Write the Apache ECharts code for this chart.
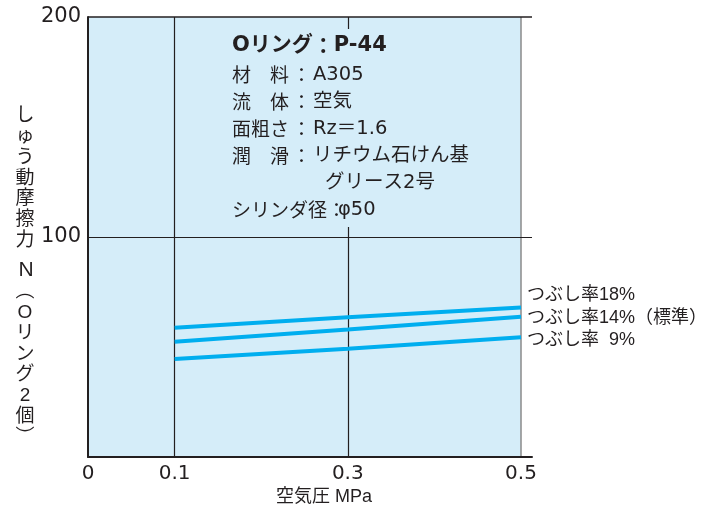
<!DOCTYPE html>
<html>
<head>
<meta charset="utf-8">
<script src="https://cdn.jsdelivr.net/npm/echarts@6/dist/echarts.min.js"></script>
<style>html,body{margin:0;padding:0;background:#fff;}#c{width:710px;height:515px;}</style>
</head>
<body>
<div id="c"></div>
<script>
// ---- data ----
const xValues = [0.1, 0.3, 0.5];            // 空気圧 MPa
const s18 = [58.8, 63.5, 68.0];             // つぶし率18%
const s14 = [52.4, 58.0, 63.8];             // つぶし率14%（標準）
const s9  = [44.5, 49.2, 54.4];             // つぶし率 9%
const seriesNames = ['つぶし率18%', 'つぶし率14%（標準）', 'つぶし率  9%'];
const xTickLabels = [0, 0.1, 0.3, 0.5];
const yTickLabels = [100, 200];
const xGridValues = [0.1, 0.3];
const xAxisName = '空気圧 MPa';
const yNameTop = 'し\nゅ\nう\n動\n摩\n擦\n力';
const yNameUnit = 'N';
const yNameBottom = '︵\nO\nリ\nン\nグ\n2\n個\n︶';
const infoTitle = ['Oリング', 'P-44'];
const infoLines = [
  ['材　料', 'A305'],
  ['流　体', '空気'],
  ['面粗さ', 'Rz＝1.6'],
  ['潤　滑', 'リチウム石けん基'],
  ['', 'グリース2号']
];
const infoLast = ['シリンダ径', 'φ50'];

const FONT = '"Liberation Sans", Arial, "Noto Sans CJK JP", sans-serif';
const WFONT = '"DejaVu Sans", "Noto Sans CJK JP", sans-serif';
const JFONT = '"Noto Sans CJK JP", sans-serif';
const TXT = '#231f20';
const BLUE = '#d5edf9';
const LINE = '#00aeef';

const allSeries = [s18, s14, s9];
const labelOffsets = [-12, 1, 3];

const chart = echarts.init(document.getElementById('c'), null, {renderer: 'canvas'});

const series = allSeries.map((arr, i) => ({
  name: seriesNames[i],
  type: 'line',
  data: xValues.map((x, j) => [x, arr[j]]),
  symbol: 'none',
  z: 5,
  lineStyle: {color: LINE, width: 4},
  endLabel: {
    show: true,
    formatter: seriesNames[i],
    color: TXT,
    fontSize: 18,
    fontFamily: FONT,
    distance: 6,
    offset: [0, labelOffsets[i]]
  },
  emphasis: {disabled: true}
}));

series[0].markArea = {
  silent: true,
  itemStyle: {color: BLUE},
  data: [[{xAxis: 0, yAxis: 0}, {xAxis: 0.5, yAxis: 200}]]
};
series[0].markLine = {
  silent: true,
  symbol: 'none',
  label: {show: false},
  lineStyle: {color: '#231f20', width: 1.2, type: 'solid'},
  data: [
    ...xGridValues.map(v => ({xAxis: v})),
    {xAxis: 0.5, lineStyle: {color: '#8a8a8a', width: 1.5, type: 'solid'}},
    {yAxis: 100},
    {yAxis: 200, lineStyle: {color: '#231f20', width: 1.6, type: 'solid'}}
  ]
};

const infoText = ['{t|' + infoTitle[0] + '}{tc|：}{t|' + infoTitle[1] + '}']
  .concat(infoLines.map(l => l[0]
    ? '{k|' + l[0] + '}{c|：}{v|' + l[1] + '}'
    : '{k| }{c| }{v2|' + l[1] + '}'))
  .concat(['{k2|' + infoLast[0] + '}{c3|：}{v|' + infoLast[1] + '}'])
  .join('\n');

const option = {
  animation: false,
  backgroundColor: '#fff',
  grid: {left: 88, right: 178, top: 17, bottom: 58, containLabel: false},
  xAxis: {
    type: 'value',
    min: 0,
    max: 0.5 * 444 / 433,
    interval: 0.1,
    z: 10,
    axisLine: {show: true, lineStyle: {color: '#231f20', width: 2}},
    axisTick: {show: false},
    splitLine: {show: false},
    axisLabel: {
      color: TXT, fontSize: 20, fontFamily: WFONT, margin: 7,
      showMaxLabel: false,
      formatter: v => {
        const r = Math.round(v * 10) / 10;
        return xTickLabels.some(t => Math.abs(t - v) < 1e-6) ? String(r) : '';
      }
    }
  },
  yAxis: {
    type: 'value',
    min: 0,
    max: 200,
    interval: 100,
    z: 10,
    axisLine: {show: true, lineStyle: {color: '#231f20', width: 2}},
    axisTick: {show: false},
    splitLine: {show: false},
    axisLabel: {
      color: TXT, fontSize: 21, fontFamily: WFONT, margin: 7,
      showMinLabel: false,
      formatter: v => yTickLabels.includes(v) ? String(v) : ''
    }
  },
  series: series,
  graphic: [
    {
      type: 'text', x: 324, y: 497, z: 100,
      style: {text: xAxisName, fill: TXT, font: '18px ' + FONT, textAlign: 'center', textVerticalAlign: 'middle'}
    },
    {
      type: 'text', x: 25, y: 103.6, z: 100,
      style: {text: yNameTop, fill: TXT, font: '19px ' + JFONT, textAlign: 'center', lineHeight: 20.8}
    },
    {
      type: 'text', x: 26, y: 270, z: 100,
      style: {text: yNameUnit, fill: TXT, font: '21px ' + FONT, textAlign: 'center', textVerticalAlign: 'middle'}
    },
    {
      type: 'text', x: 25, y: 281.6, z: 100,
      style: {text: yNameBottom, fill: TXT, font: '19px ' + FONT, textAlign: 'center', lineHeight: 20.8}
    },
    {
      type: 'text', x: 224, y: 29, z: 100,
      style: {
        text: infoText,
        fill: TXT,
        backgroundColor: BLUE,
        padding: [1, 10, 4, 8],
        font: '19px ' + JFONT,
        rich: {
          t: {fontSize: 21, fontWeight: 'bold', fontFamily: WFONT, fill: TXT, lineHeight: 31},
          tc: {fontSize: 21, fontWeight: 'bold', fontFamily: JFONT, fill: TXT, lineHeight: 31},
          k: {fontSize: 19, fontFamily: JFONT, fill: TXT, lineHeight: 27, width: 57},
          k2: {fontSize: 19, fontFamily: JFONT, fill: TXT, lineHeight: 27},
          c: {fontSize: 19, fontFamily: JFONT, fill: TXT, lineHeight: 27, width: 21, padding: [0, 0, 0, 3]},
          c3: {fontSize: 19, fontFamily: JFONT, fill: TXT, lineHeight: 27, width: 11},
          v: {fontSize: 19.5, fontFamily: WFONT, fill: TXT, lineHeight: 27},
          v2: {fontSize: 19.5, fontFamily: WFONT, fill: TXT, lineHeight: 27, padding: [0, 0, 0, 12]}
        }
      }
    }
  ]
};
chart.setOption(option);
</script>
</body>
</html>
